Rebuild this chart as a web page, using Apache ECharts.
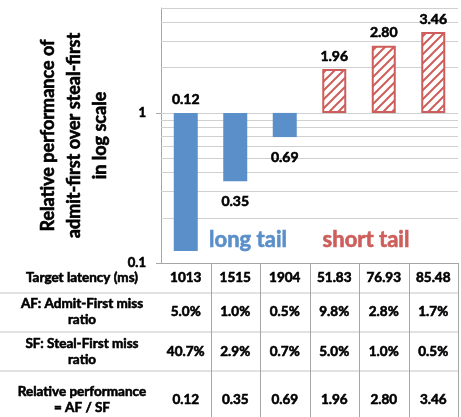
<!DOCTYPE html>
<html>
<head>
<meta charset="utf-8">
<script src="https://cdn.jsdelivr.net/npm/echarts@6/dist/echarts.min.js"></script>
<style>
  html, body { margin: 0; padding: 0; background: #fff; }
  #main { width: 461px; height: 417px; }
</style>
</head>
<body>
<div id="main"></div>
<script>
// values
const latency = ['1013', '1515', '1904', '51.83', '76.93', '85.48'];
const afMiss = ['5.0%', '1.0%', '0.5%', '9.8%', '2.8%', '1.7%'];
const sfMiss = ['40.7%', '2.9%', '0.7%', '5.0%', '1.0%', '0.5%'];
const relPerf = [0.12, 0.35, 0.69, 1.96, 2.80, 3.46];
const rowLabels = ['Target latency (ms)', 'AF: Admit-First miss\nratio', 'SF: Steal-First miss\nratio', 'Relative performance\n= AF / SF'];
const gridValues = [0.2, 0.3, 0.4, 0.5, 0.6, 0.7, 0.8, 0.9, 1, 2, 3, 4, 5];
const yTicks = [0.1, 1];

const blue = '#5b8fc9';
const red = '#cd5e5b';
const FONT = 'Lato, "Noto Sans", sans-serif';
const HEAVY = 0.6; // a thin outline of the same colour makes Lato closer to the heavier original

// diagonal hatch for the short tail bars
function hatch() {
  const s = 9;
  const c = document.createElement('canvas');
  c.width = s; c.height = s;
  const g = c.getContext('2d');
  g.fillStyle = '#fff';
  g.fillRect(0, 0, s, s);
  g.strokeStyle = red;
  g.lineWidth = 2;
  g.beginPath();
  g.moveTo(-1, s + 1); g.lineTo(s + 1, -1);
  g.moveTo(-3, 3); g.lineTo(3, -3);
  g.moveTo(s - 3, s + 3); g.lineTo(s + 3, s - 3);
  g.stroke();
  return c;
}
const pattern = { image: hatch(), repeat: 'repeat' };

const chart = echarts.init(document.getElementById('main'));

const barData = relPerf.map(function (v, i) {
  const isLong = i < 3;
  const below = isLong && i > 0;
  return {
    value: v,
    itemStyle: isLong
      ? { color: blue }
      : { color: pattern, borderColor: red, borderWidth: 2 },
    label: { position: below ? 'bottom' : 'top', distance: below ? 13 : 6 }
  };
});

chart.setOption({
  animation: false,
  grid: { left: 161, right: 3, top: 8, bottom: 154 },
  xAxis: {
    type: 'category',
    data: latency,
    axisLine: { lineStyle: { color: '#a6a6a6' } },
    axisTick: { show: false },
    axisLabel: { show: false }
  },
  yAxis: {
    type: 'log',
    logBase: 10,
    min: 0.1,
    max: 5,
    name: 'Relative performance of\nadmit-first over steal-first\nin log scale',
    nameLocation: 'middle',
    nameRotate: 90,
    nameGap: 48,
    nameTextStyle: {
      fontFamily: FONT, fontWeight: 'bold', fontSize: 18, lineHeight: 26, color: '#000',
      textBorderColor: '#000', textBorderWidth: HEAVY
    },
    axisLine: { show: true, lineStyle: { color: '#a6a6a6' } },
    axisTick: { show: true, length: 5, customValues: yTicks, lineStyle: { color: '#a6a6a6' } },
    axisLabel: {
      customValues: yTicks, color: '#000', fontFamily: FONT, fontWeight: 'bold', fontSize: 13, margin: 15,
      textBorderColor: '#000', textBorderWidth: HEAVY
    },
    splitLine: { show: false }
  },
  series: [{
    type: 'bar',
    z: 2,
    barWidth: 24,
    data: barData,
    label: {
      show: true,
      color: '#000',
      fontFamily: FONT,
      fontWeight: 'bold',
      fontSize: 14,
      textBorderColor: '#000',
      textBorderWidth: HEAVY,
      formatter: function (p) { return p.value.toFixed(2); }
    },
    markLine: {
      z: 1,
      silent: true,
      symbol: 'none',
      label: { show: false },
      lineStyle: { color: '#d0d0d0', type: 'solid', width: 1 },
      data: gridValues.map(function (v) { return { yAxis: v }; })
    }
  }]
});

// table under the plot, columns lined up with the categories
const x0 = chart.convertToPixel({ xAxisIndex: 0 }, 0);
const x1 = chart.convertToPixel({ xAxisIndex: 0 }, 1);
const colW = x1 - x0;
const tableTop = 263;
const rowLines = [293, 332, 371];
const rowCenters = [278, 312, 352, 400];
const rows = [latency, afMiss, sfMiss, relPerf.map(function (v) { return v.toFixed(2); })];

function txt(text, x, y, font, fill, extra) {
  return {
    type: 'text',
    style: Object.assign({
      text: text, x: x, y: y, align: 'center', verticalAlign: 'middle',
      font: font, fill: fill, stroke: fill, lineWidth: HEAVY
    }, extra || {})
  };
}

const g = [];
rowLines.forEach(function (y) {
  g.push({ type: 'line', shape: { x1: 0, y1: y, x2: x0 + 5.5 * colW, y2: y }, style: { stroke: '#c4c4c4', lineWidth: 1 } });
});
for (let i = 0; i < latency.length; i++) {
  const xb = Math.round(x0 + (i + 0.5) * colW) + 0.5;
  g.push({ type: 'line', shape: { x1: xb, y1: tableTop, x2: xb, y2: 417 }, style: { stroke: '#a6a6a6', lineWidth: 1 } });
}
rows.forEach(function (row, r) {
  g.push(txt(rowLabels[r], 82, rowCenters[r], 'bold 13.5px ' + FONT, '#000', { lineHeight: 16 }));
  row.forEach(function (t, i) {
    g.push(txt(t, chart.convertToPixel({ xAxisIndex: 0 }, i), rowCenters[r], 'bold 13.5px ' + FONT, '#000'));
  });
});

// tail annotations
g.push(txt('long tail', 248, 240, 'bold 22px ' + FONT, blue));
g.push(txt('short tail', 366, 240, 'bold 22px ' + FONT, red));

chart.setOption({ graphic: g });
</script>
</body>
</html>
